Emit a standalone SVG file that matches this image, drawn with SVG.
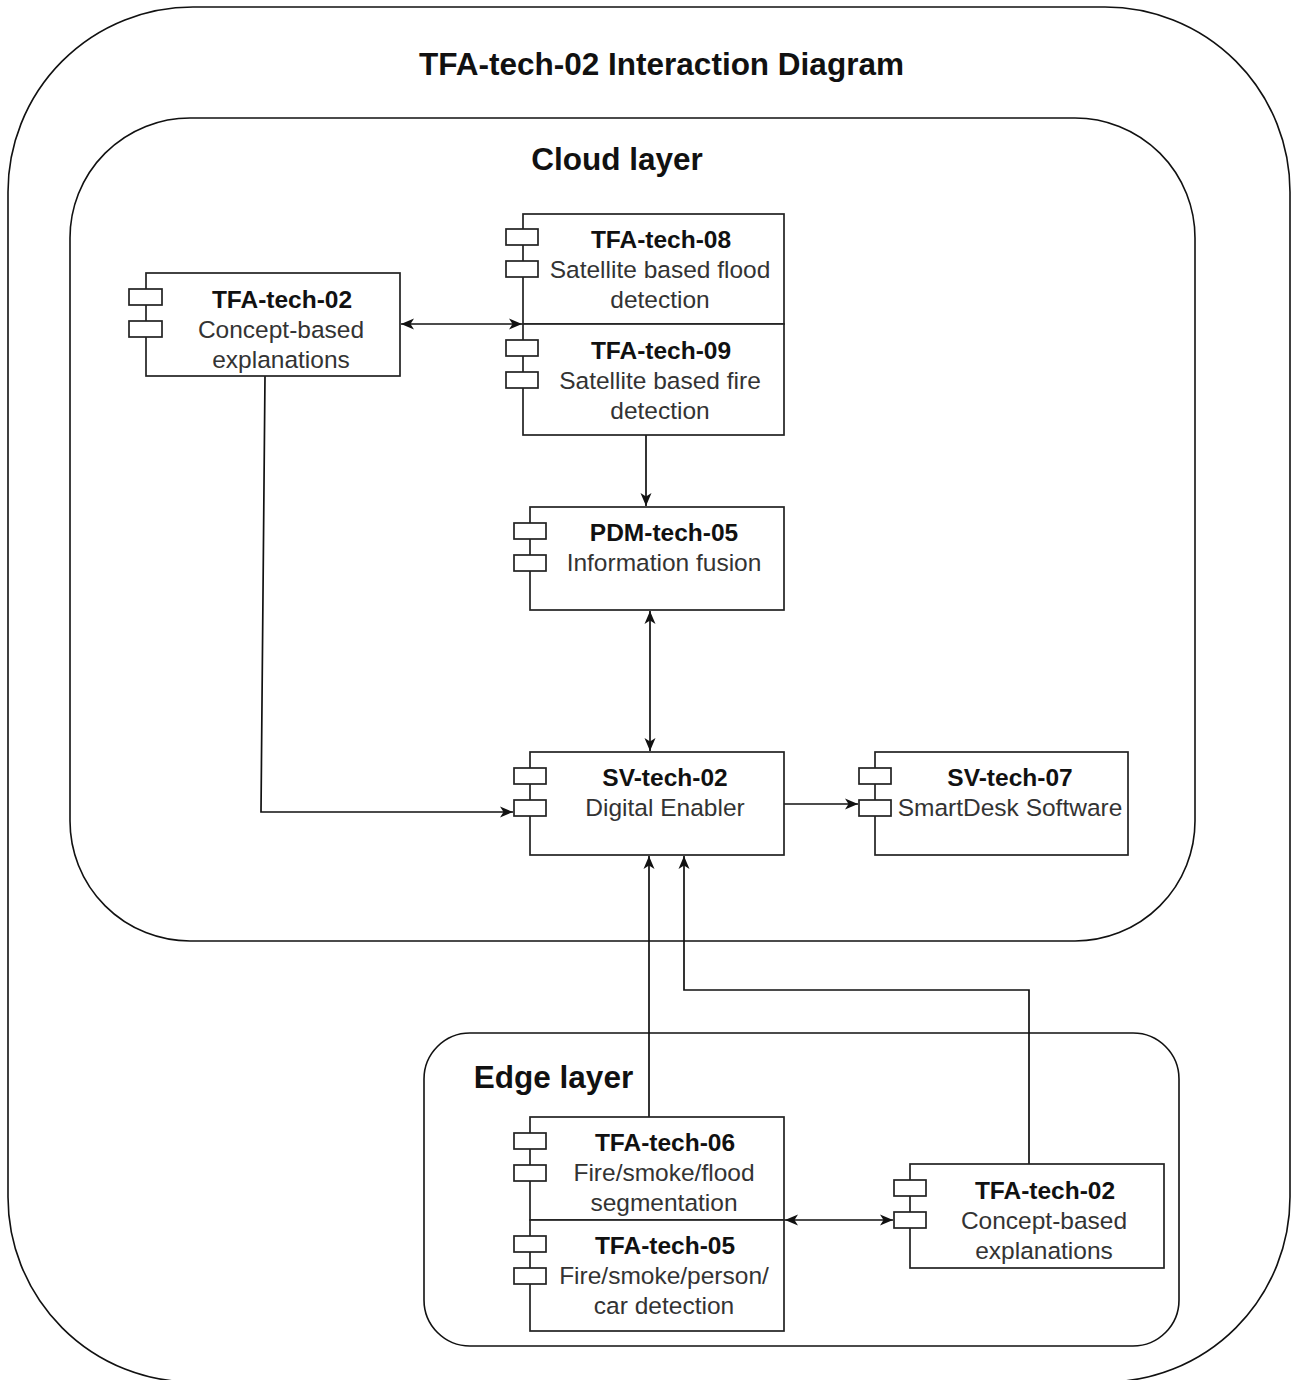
<svg xmlns="http://www.w3.org/2000/svg" width="1293" height="1380" viewBox="0 0 1293 1380">
  <style>
    .container { fill: none; stroke: #111; stroke-width: 1.6; }
    .box { fill: #fff; stroke: #222; stroke-width: 1.7; }
    .port { fill: #fff; stroke: #222; stroke-width: 1.7; }
    .edge { fill: none; stroke: #111; stroke-width: 1.7; }
    .heading { font-family: "Liberation Sans", Arial, sans-serif; font-weight: bold; font-size: 31.5px; fill: #111; text-anchor: middle; }
    .name { font-family: "Liberation Sans", Arial, sans-serif; font-weight: bold; font-size: 24.5px; fill: #111; text-anchor: middle; }
    .desc { font-family: "Liberation Sans", Arial, sans-serif; font-size: 24.5px; fill: #333; text-anchor: middle; }
  </style>
  <defs>
    <!-- classic notched arrowhead, tip at the line end -->
    <marker id="arrow" viewBox="0 0 14 12" refX="13" refY="6" markerWidth="14" markerHeight="12" markerUnits="userSpaceOnUse" orient="auto-start-reverse">
      <path d="M0,0.5 L13,6 L0,11.5 L3.5,6 Z" fill="#111"/>
    </marker>
  </defs>

  <rect width="1293" height="1380" fill="#fff"/>

  <!-- outer frame -->
  <g id="frame">
    <rect class="container" x="8" y="7" width="1282" height="1375" rx="185" ry="185"/>
    <text class="heading" x="661.5" y="75">TFA-tech-02 Interaction Diagram</text>
  </g>

  <!-- cloud layer container -->
  <g id="cloud-layer">
    <rect class="container" x="70" y="118" width="1125" height="823" rx="120" ry="120"/>
    <text class="heading" x="617" y="170">Cloud layer</text>
  </g>

  <!-- edge layer container -->
  <g id="edge-layer">
    <rect class="container" x="424" y="1033" width="755" height="313" rx="46" ry="46"/>
    <text class="heading" x="553.5" y="1088">Edge layer</text>
  </g>

  <!-- connectors -->
  <g id="connectors">
    <line class="edge" x1="401" y1="324" x2="522" y2="324" marker-start="url(#arrow)" marker-end="url(#arrow)"/>
    <line class="edge" x1="646" y1="435" x2="646" y2="506" marker-end="url(#arrow)"/>
    <line class="edge" x1="650" y1="611" x2="650" y2="751" marker-start="url(#arrow)" marker-end="url(#arrow)"/>
    <polyline class="edge" points="265,376 261,812 513,812" marker-end="url(#arrow)"/>
    <line class="edge" x1="784" y1="804" x2="858" y2="804" marker-end="url(#arrow)"/>
    <line class="edge" x1="649" y1="1117" x2="649" y2="856" marker-end="url(#arrow)"/>
    <polyline class="edge" points="1029,1164 1029,990 684,990 684,856" marker-end="url(#arrow)"/>
    <line class="edge" x1="785" y1="1220" x2="893" y2="1220" marker-start="url(#arrow)" marker-end="url(#arrow)"/>
  </g>

  <!-- cloud: TFA-tech-02 -->
  <g id="cloud-tfa-tech-02">
    <rect class="box" x="146" y="273" width="254" height="103"/>
    <rect class="port" x="129" y="289" width="33" height="16"/>
    <rect class="port" x="129" y="321" width="33" height="16"/>
    <text class="name" x="282" y="308">TFA-tech-02</text>
    <text class="desc" x="281" y="338">Concept-based</text>
    <text class="desc" x="281" y="368">explanations</text>
  </g>

  <!-- cloud: TFA-tech-08 / TFA-tech-09 stack -->
  <g id="tfa-tech-08">
    <rect class="box" x="523" y="214" width="261" height="110"/>
    <rect class="port" x="506" y="229" width="32" height="16"/>
    <rect class="port" x="506" y="261" width="32" height="16"/>
    <text class="name" x="661" y="248">TFA-tech-08</text>
    <text class="desc" x="660" y="278">Satellite based flood</text>
    <text class="desc" x="660" y="308">detection</text>
  </g>
  <g id="tfa-tech-09">
    <rect class="box" x="523" y="324" width="261" height="111"/>
    <rect class="port" x="506" y="340" width="32" height="16"/>
    <rect class="port" x="506" y="372" width="32" height="16"/>
    <text class="name" x="661" y="359">TFA-tech-09</text>
    <text class="desc" x="660" y="389">Satellite based fire</text>
    <text class="desc" x="660" y="419">detection</text>
  </g>

  <!-- cloud: PDM-tech-05 -->
  <g id="pdm-tech-05">
    <rect class="box" x="530" y="507" width="254" height="103"/>
    <rect class="port" x="514" y="523" width="32" height="16"/>
    <rect class="port" x="514" y="555" width="32" height="16"/>
    <text class="name" x="664" y="541">PDM-tech-05</text>
    <text class="desc" x="664" y="571">Information fusion</text>
  </g>

  <!-- cloud: SV-tech-02 -->
  <g id="sv-tech-02">
    <rect class="box" x="530" y="752" width="254" height="103"/>
    <rect class="port" x="514" y="768" width="32" height="16"/>
    <rect class="port" x="514" y="800" width="32" height="16"/>
    <text class="name" x="665" y="786">SV-tech-02</text>
    <text class="desc" x="665" y="816">Digital Enabler</text>
  </g>

  <!-- cloud: SV-tech-07 -->
  <g id="sv-tech-07">
    <rect class="box" x="875" y="752" width="253" height="103"/>
    <rect class="port" x="859" y="768" width="32" height="16"/>
    <rect class="port" x="859" y="800" width="32" height="16"/>
    <text class="name" x="1010" y="786">SV-tech-07</text>
    <text class="desc" x="1010" y="816">SmartDesk Software</text>
  </g>

  <!-- edge: TFA-tech-06 / TFA-tech-05 stack -->
  <g id="tfa-tech-06">
    <rect class="box" x="530" y="1117" width="254" height="103"/>
    <rect class="port" x="514" y="1133" width="32" height="16"/>
    <rect class="port" x="514" y="1165" width="32" height="16"/>
    <text class="name" x="665" y="1151">TFA-tech-06</text>
    <text class="desc" x="664" y="1181">Fire/smoke/flood</text>
    <text class="desc" x="664" y="1211">segmentation</text>
  </g>
  <g id="tfa-tech-05">
    <rect class="box" x="530" y="1220" width="254" height="111"/>
    <rect class="port" x="514" y="1236" width="32" height="16"/>
    <rect class="port" x="514" y="1268" width="32" height="16"/>
    <text class="name" x="665" y="1254">TFA-tech-05</text>
    <text class="desc" x="664" y="1284">Fire/smoke/person/</text>
    <text class="desc" x="664" y="1314">car detection</text>
  </g>

  <!-- edge: TFA-tech-02 -->
  <g id="edge-tfa-tech-02">
    <rect class="box" x="910" y="1164" width="254" height="104"/>
    <rect class="port" x="894" y="1180" width="32" height="16"/>
    <rect class="port" x="894" y="1212" width="32" height="16"/>
    <text class="name" x="1045" y="1199">TFA-tech-02</text>
    <text class="desc" x="1044" y="1229">Concept-based</text>
    <text class="desc" x="1044" y="1259">explanations</text>
  </g>
</svg>
